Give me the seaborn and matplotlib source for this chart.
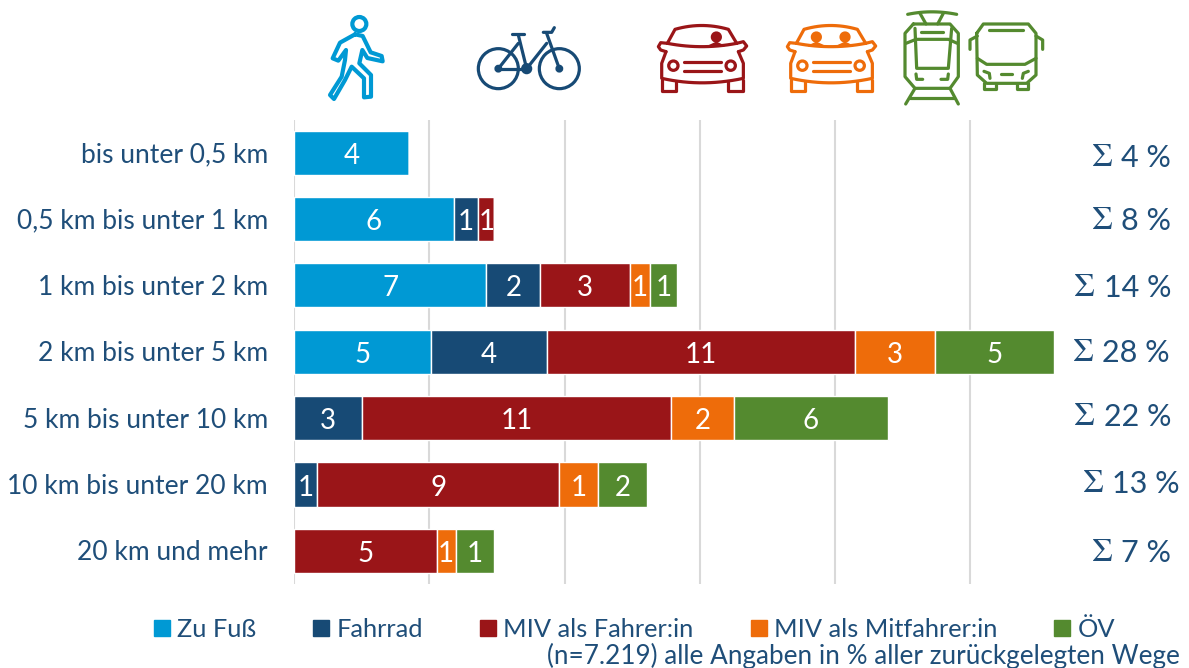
import numpy as np
import pandas as pd
import matplotlib
matplotlib.use("Agg")
import matplotlib.pyplot as plt
from matplotlib.patches import Patch, Circle
from matplotlib.transforms import ScaledTranslation
import seaborn as sns

categories = ["bis unter 0,5 km", "0,5 km bis unter 1 km", "1 km bis unter 2 km", "2 km bis unter 5 km",
              "5 km bis unter 10 km", "10 km bis unter 20 km", "20 km und mehr"]
zu_fuss = [4.25, 5.9, 7.1, 5.05, 0, 0, 0]
fahrrad = [0, 0.9, 2.0, 4.3, 2.5, 0.85, 0]
miv_fahrer = [0, 0.6, 3.3, 11.4, 11.43, 8.95, 5.27]
miv_mitfahrer = [0, 0, 0.75, 2.95, 2.32, 1.45, 0.7]
oev = [0, 0, 1.0, 4.4, 5.72, 1.8, 1.43]
labels_zu_fuss = ["4", "6", "7", "5", "", "", ""]
labels_fahrrad = ["", "1", "2", "4", "3", "1", ""]
labels_miv_fahrer = ["", "1", "3", "11", "11", "9", "5"]
labels_miv_mitfahrer = ["", "", "1", "3", "2", "1", "1"]
labels_oev = ["", "", "1", "5", "6", "2", "1"]
totals = ["4", "8", "14", "28", "22", "13", "7"]
series_names = ["Zu Fuß", "Fahrrad", "MIV als Fahrer:in", "MIV als Mitfahrer:in", "ÖV"]
colors = ["#0099D4", "#174A75", "#9A1518", "#EE6C0A", "#548A2F"]
note = "(n=7.219) alle Angaben in % aller zurückgelegten Wege"

total_right_px = [1171, 1171, 1171, 1170, 1171, 1180, 1171]
total_y_px = [158, 221, 288, 353, 417, 484, 553]
TEXT = "#1F4E79"
W, H = 1189, 668
sns.set_theme(style="white")
plt.rcParams["font.family"] = ["Lato", "DejaVu Sans"]

fig = plt.figure(figsize=(W / 100, H / 100), dpi=100)
ax = fig.add_axes([294.3 / W, 1 - 584 / H, (1054.3 - 294.3) / W, 464.5 / H])

series = [zu_fuss, fahrrad, miv_fahrer, miv_mitfahrer, oev]
series_labels = [labels_zu_fuss, labels_fahrrad, labels_miv_fahrer, labels_miv_mitfahrer, labels_oev]
left = np.zeros(len(categories))
for name, vals, lab, col in zip(series_names, series, series_labels, colors):
    df = pd.DataFrame({"Distanz": categories, "Anteil": vals})
    sns.barplot(data=df, y="Distanz", x="Anteil", order=categories, left=left, color=col,
                saturation=1, width=0.665, ax=ax, orient="y", errorbar=None, zorder=3)
    for t in ax.bar_label(ax.containers[-1], labels=lab, label_type="center", color="white", fontsize=20):
        t.xyann = (0, -2.2)
    left = left + np.array(vals)

ax.set_xlim(0, 28.11)
ax.set_ylim(6.5, -0.5)
ax.set_xticks([0, 5, 10, 15, 20, 25])
ax.set_xticklabels([])
ax.xaxis.grid(True, color="#D9D9D9", lw=1.5, zorder=0)
ax.set_axisbelow(True)
ax.tick_params(axis="both", length=0)
ax.set_xlabel("")
ax.set_ylabel("")
ax.tick_params(axis="y", pad=19, labelsize=19, labelcolor=TEXT)
shift = ScaledTranslation(0, 0.3 / 72, fig.dpi_scale_trans)
for lab in ax.get_yticklabels():
    lab.set_transform(lab.get_transform() + shift)
sns.despine(ax=ax, left=True, bottom=True, right=True, top=True)

handles = [Patch(color=c, label=n) for n, c in zip(series_names, colors)]
fig.legend(handles=handles, ncol=5, loc="center left", bbox_to_anchor=(154 / W, 1 - 629.5 / H), frameon=False,
           fontsize=18.3, labelcolor=TEXT, handlelength=0.63, handleheight=0.63, handletextpad=0.28,
           columnspacing=2.25, borderpad=0, borderaxespad=0)
fig.text(1180 / W, 1 - 664 / H, note, ha="right", va="baseline", color=TEXT, fontsize=18.8)

# overlay in pixel units for Σ totals and the icons
ov = fig.add_axes([0, 0, 1, 1], zorder=5)
ov.set_xlim(0, W)
ov.set_ylim(H, 0)
ov.axis("off")
for t, rp, yp in zip(totals, total_right_px, total_y_px):
    num = ov.text(rp, yp, t + " %", ha="right", va="center", color=TEXT, fontsize=22)
    ov.annotate("Σ", xy=(0, 0.5), xycoords=num, xytext=(-6, 0), textcoords="offset points", ha="right", va="center",
                color=TEXT, fontsize=24, family="STIXGeneral")


def line(pts, col, ox, lw=2.3, closed=False):
    p = np.array(pts, dtype=float)
    if closed:
        p = np.vstack([p, p[:1]])
    ov.plot(ox + p[:, 0] / 3, p[:, 1] / 3, color=col, lw=lw, solid_capstyle="round", solid_joinstyle="round")


def curve(a, b, c, n=16):
    t = np.linspace(0, 1, n)[:, None]
    a, b, c = map(np.array, (a, b, c))
    return (1 - t) ** 2 * a + 2 * t * (1 - t) * b + t ** 2 * c


def circ(x, y, r, col, ox, fill=False, lw=2.3):
    ov.add_patch(Circle((ox + x / 3, y / 3), r / 3, fc=col if fill else "none", ec=col, lw=lw))


# pedestrian
c = colors[0]
circ(148, 72, 21, c, 310, lw=3)
line([(135, 103), (158, 108), (182, 157), (215, 168), (218, 184), (172, 174), (157, 150), (148, 190), (183, 225),
      (183, 290), (162, 292), (162, 235), (125, 200), (105, 240), (72, 297), (60, 285), (95, 230), (105, 180),
      (108, 150), (85, 182), (68, 175), (90, 128)], c, 310, lw=3, closed=True)
# bicycle
c = colors[1]
for x in (565, 748):
    circ(x, 206, 60, c, 310)
for seg in ([(565, 206), (650, 206)], [(565, 206), (625, 130)], [(625, 105), (650, 206)], [(650, 206), (710, 130)],
            [(710, 100), (748, 206)], [(605, 103), (642, 103)], [(700, 97), (725, 97), (733, 83)]):
    line(seg, c, 310)
circ(565, 206, 7, c, 310, True)
circ(650, 206, 12, c, 310, True)
circ(748, 206, 7, c, 310, True)


# cars
def car(ox_center, col, heads):
    ox = ox_center - 1175 / 3
    roof = np.vstack([[(1072, 130), (1095, 88)], curve((1095, 88), (1175, 65), (1255, 88)), [(1280, 130)]])
    line(roof, col, ox)
    line(curve((1072, 130), (1175, 150), (1280, 130)), col, ox)
    line([(1072, 130), (1052, 128), (1045, 140), (1052, 150), (1068, 155)], col, ox)
    line([(1280, 130), (1300, 125), (1310, 138), (1300, 150), (1285, 155)], col, ox)
    body = np.vstack([[(1068, 155), (1055, 190), (1055, 235)], curve((1055, 235), (1175, 262), (1300, 235)),
                      [(1300, 190), (1285, 155)]])
    line(body, col, ox)
    line([(1055, 240), (1055, 272), (1098, 272), (1098, 246)], col, ox)
    line([(1255, 246), (1255, 272), (1298, 272), (1298, 240)], col, ox)
    circ(1090, 197, 14, col, ox)
    circ(1262, 197, 14, col, ox)
    line([(1122, 187), (1232, 187)], col, ox)
    line([(1122, 214), (1232, 214)], col, ox)
    for hx in heads:
        circ(hx, 111, 12, col, ox, True)
        ov.fill([ox + (hx - 24) / 3, ox + hx / 3, ox + (hx + 24) / 3], [138 / 3, 127 / 3, 138 / 3], color=col)


car(701.7, colors[2], [1219])
car(830.7, colors[3], [1132, 1218])

# tram
c = colors[4]
ox = 760
line([(460, 72), (570, 72), (595, 100), (595, 230), (570, 265), (465, 265), (435, 230), (435, 100)], c, ox, closed=True)
line([(465, 85), (470, 205), (565, 205), (575, 85)], c, ox)
line([(438, 130), (468, 118), (565, 118), (592, 130)], c, ox)
line([(483, 96), (548, 96)], c, ox)
line(curve((443, 43), (515, 28), (590, 43)), c, ox)
line([(480, 40), (498, 72)], c, ox)
line([(550, 40), (533, 72)], c, ox)
line([(468, 222), (470, 238), (488, 238)], c, ox)
line([(565, 222), (563, 238), (543, 238)], c, ox)
line([(465, 265), (437, 312)], c, ox)
line([(570, 265), (595, 312)], c, ox)
line([(450, 295), (583, 295)], c, ox)
# bus
line([(650, 100), (670, 72), (805, 72), (828, 100), (828, 225), (800, 250), (680, 250), (652, 225)], c, ox, closed=True)
line([(652, 108), (630, 120), (630, 148)], c, ox)
line([(828, 108), (848, 120), (848, 148)], c, ox)
line([(652, 175), (680, 193), (795, 193), (828, 175)], c, ox)
line([(688, 90), (790, 90)], c, ox)
line([(672, 214), (688, 220), (690, 235)], c, ox)
line([(805, 214), (790, 220), (787, 235)], c, ox)
line([(722, 222), (755, 222)], c, ox)
line([(672, 250), (672, 268), (708, 268), (708, 250)], c, ox)
line([(770, 250), (770, 268), (805, 268), (805, 250)], c, ox)

fig.savefig("out.png", dpi=100)
